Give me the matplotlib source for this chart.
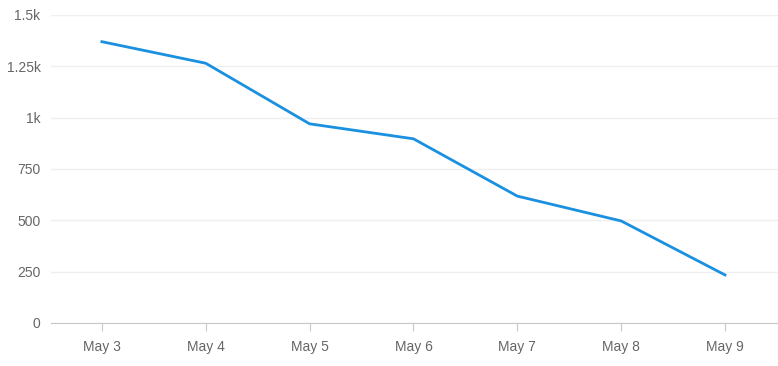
import matplotlib
matplotlib.use("Agg")
import matplotlib.pyplot as plt

plt.rcParams["font.family"] = ["Liberation Sans", "DejaVu Sans"]

days = ["May 3", "May 4", "May 5", "May 6", "May 7", "May 8", "May 9"]
values = [1370, 1265, 970, 897, 618, 497, 234]
yticks = [0, 250, 500, 750, 1000, 1250, 1500]
ylabels = ["0", "250", "500", "750", "1k", "1.25k", "1.5k"]

fig = plt.figure(figsize=(7.78, 3.66), dpi=100)
ax = fig.add_axes([51 / 778, 1 - 323 / 366, 1 - 51 / 778, (323 - 15) / 366])

x = list(range(len(days)))
ax.plot(x, values, color="#1a90e0", linewidth=2, solid_joinstyle="round")

ax.set_xlim(-0.49, len(days) - 1 + 0.51)
ax.set_ylim(0, 1500)
ax.set_xticks(x)
ax.set_xticklabels(days)
ax.set_yticks(yticks)
ax.set_yticklabels(ylabels)

ax.grid(axis="y", color="#efefef", linewidth=1)
ax.set_axisbelow(True)
for s in ["top", "right", "left"]:
    ax.spines[s].set_visible(False)
ax.spines["bottom"].set_color("#c8c8c8")
ax.tick_params(axis="x", colors="#c8c8c8", length=6, pad=6, labelcolor="#666666", labelsize=10)
ax.tick_params(axis="y", length=0, pad=7.5, labelcolor="#666666", labelsize=10)

fig.savefig("out.png", dpi=100)
